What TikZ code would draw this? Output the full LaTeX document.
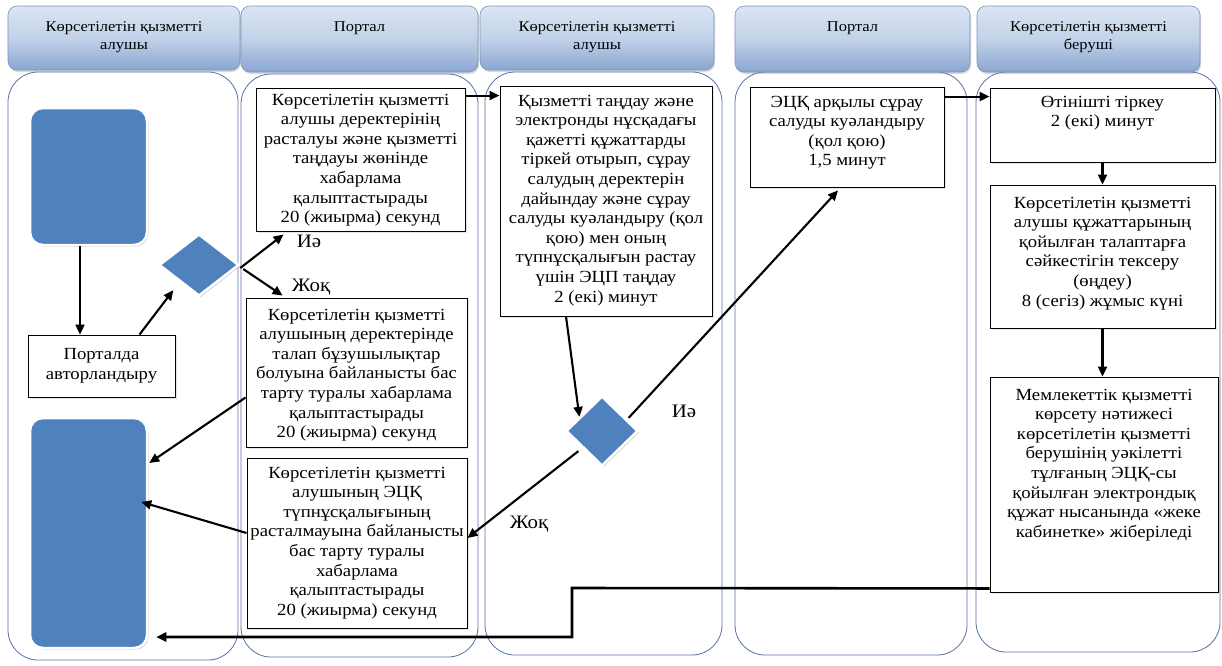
\documentclass[tikz,border=0pt]{standalone}
\usepackage{fontspec}
\setmainfont{Liberation Serif}[FakeStretch=1.1]
\usetikzlibrary{shapes.geometric,arrows.meta,calc,shadows}
\definecolor{hdrtop}{HTML}{DCE5F2}
\definecolor{hdrmid}{HTML}{C2D2E9}
\definecolor{hdrbot}{HTML}{8AA6D0}
\definecolor{hdrline}{HTML}{7893C0}
\definecolor{laneline}{HTML}{5870A0}
\definecolor{shapeblue}{HTML}{4F81BD}
\newcommand\cl[1]{\makebox[\linewidth][c]{\strut #1}\par}
\newcommand\mybx[4]{\parbox[c][#2][t]{#1}{\vspace*{#3}#4}}
\begin{document}
\begin{tikzpicture}[x=1pt,y=-1pt,
  lane/.style={draw=laneline,line width=0.8pt,rounded corners=30pt,inner sep=0pt},
  hdr/.style={draw=hdrline,line width=0.6pt,rounded corners=9pt,inner sep=0pt,
    top color=hdrtop,bottom color=hdrbot,middle color=hdrmid,
    drop shadow={opacity=0.3,shadow xshift=1pt,shadow yshift=-2pt},
    font=\fontsize{15}{18}\selectfont},
  box/.style={draw=black,line width=0.9pt,fill=white,inner sep=0pt,
    drop shadow={opacity=0.2,shadow xshift=1.5pt,shadow yshift=-1.5pt},
    font=\fontsize{17}{19.6}\selectfont},
  bshape/.style={fill=shapeblue,draw=white,line width=2.5pt,rounded corners=13pt,inner sep=0pt,
    drop shadow={opacity=0.35,shadow xshift=1.5pt,shadow yshift=-1.5pt}},
  bdia/.style={diamond,fill=shapeblue,draw=white,line width=2.5pt,inner sep=0pt,
    drop shadow={opacity=0.35,shadow xshift=1.5pt,shadow yshift=-1.5pt}},
  arr/.style={draw=black,line width=2.1pt,-{Triangle[length=10pt,width=9pt]}},
  lbl/.style={font=\fontsize{19}{22}\selectfont,inner sep=0pt}]
\useasboundingbox (0,0) rectangle (1222,665);
% lanes
\node[lane,minimum width=230pt,minimum height=588pt] (l1) at (123,366) {};
\node[lane,minimum width=237pt,minimum height=583pt] (l2) at (359.5,365.5) {};
\node[lane,minimum width=237pt,minimum height=583pt] (l3) at (603.5,363.5) {};
\node[lane,minimum width=232pt,minimum height=583pt] (l4) at (851,363.5) {};
\node[lane,minimum width=244pt,minimum height=580pt] (l5) at (1098,362) {};
% headers
\node[hdr] (h1) at (124,38) {\mybx{232pt}{64pt}{12.9pt}{\cl{Көрсетілетін қызметті}\cl{алушы}}};
\node[hdr] (h2) at (359.5,39) {\mybx{237pt}{66pt}{12.9pt}{\cl{Портал}}};
\node[hdr] (h3) at (597,38) {\mybx{234pt}{64pt}{12.9pt}{\cl{Көрсетілетін қызметті}\cl{алушы}}};
\node[hdr] (h4) at (852.5,39) {\mybx{235pt}{66pt}{12.9pt}{\cl{Портал}}};
\node[hdr] (h5) at (1088.5,39) {\mybx{223pt}{66pt}{12.9pt}{\cl{Көрсетілетін қызметті}\cl{беруші}}};
% blue shapes
\node[bshape,minimum width=117pt,minimum height=137pt] (b1) at (88.5,176.5) {};
\node[bshape,minimum width=117pt,minimum height=230pt] (b2) at (88.5,533) {};
\node[bdia,minimum width=80pt,minimum height=62pt] (d1) at (199,265) {};
\node[bdia,minimum width=72pt,minimum height=70pt] (d2) at (602,431) {};
% boxes
\node[box,minimum width=147pt,minimum height=62pt,align=center] (auth) at (101.5,366) {Порталда\\авторландыру};
\node[box] (A) at (360.5,159.5) {\mybx{209pt}{143pt}{3.3pt}{\cl{Көрсетілетін қызметті}\cl{алушы деректерінің}\cl{расталуы және қызметті}\cl{таңдауы жөнінде}\cl{хабарлама}\cl{қалыптастырады}\cl{20 (жиырма) секунд}}};
\node[box] (B) at (356.5,372.5) {\mybx{221pt}{149pt}{8.3pt}{\cl{Көрсетілетін қызметті}\cl{алушының деректерінде}\cl{талап бұзушылықтар}\cl{болуына байланысты бас}\cl{тарту туралы хабарлама}\cl{қалыптастырады}\cl{20 (жиырма) секунд}}};
\node[box] (C) at (357,543) {\mybx{220pt}{170pt}{6.3pt}{\cl{Көрсетілетін қызметті}\cl{алушының ЭЦҚ}\cl{түпнұсқалығының}\cl{расталмауына байланысты}\cl{бас тарту туралы}\cl{хабарлама}\cl{қалыптастырады}\cl{20 (жиырма) секунд}}};
\node[box] (D) at (606,201) {\mybx{212pt}{230pt}{6.3pt}{\cl{Қызметті таңдау және}\cl{электронды нұсқадағы}\cl{қажетті құжаттарды}\cl{тіркей отырып, сұрау}\cl{салудың деректерін}\cl{дайындау және сұрау}\cl{салуды куәландыру (қол}\cl{қою) мен оның}\cl{түпнұсқалығын растау}\cl{үшін ЭЦП таңдау}\cl{2 (екі) минут}}};
\node[box] (E) at (847,137) {\mybx{194pt}{100pt}{6.3pt}{\cl{ЭЦҚ арқылы сұрау}\cl{салуды куәландыру}\cl{(қол қою)}\cl{1,5 минут}}};
\node[box] (F) at (1102.5,125) {\mybx{225pt}{74pt}{5.3pt}{\cl{Өтінішті тіркеу}\cl{2 (екі) минут}}};
\node[box] (G) at (1102.5,256.5) {\mybx{225pt}{143pt}{9.3pt}{\cl{Көрсетілетін қызметті}\cl{алушы құжаттарының}\cl{қойылған талаптарға}\cl{сәйкестігін тексеру}\cl{(өңдеу)}\cl{8 (сегіз) жұмыс күні}}};
\node[box] (H) at (1104,484.5) {\mybx{228pt}{215pt}{9.3pt}{\cl{Мемлекеттік қызметті}\cl{көрсету нәтижесі}\cl{көрсетілетін қызметті}\cl{берушінің уәкілетті}\cl{тұлғаның ЭЦҚ-сы}\cl{қойылған электрондық}\cl{құжат нысанында «жеке}\cl{кабинетке» жіберіледі}}};
% labels
\node[lbl] (yes1) at (309,241) {Иә};
\node[lbl] (no1) at (311,287) {Жоқ};
\node[lbl] (yes2) at (684,411) {Иә};
\node[lbl] (no2) at (529,524) {Жоқ};
% connectors
\draw[arr] ([xshift=-8.5pt]b1.south) -- ([xshift=-8.5pt]b1.south |- auth.north);
\draw[arr] ([xshift=38pt]auth.north) -- ($(d1.south west)+(-5,9)$);
\draw[arr] ($(d1.east)+(0,3)$) -- ($(A.south west)+(28,3)$);
\draw[arr] ($(d1.east)+(3,4)$) -- ($(B.north west)+(37,-2)$);
\draw[arr] ($(A.north east)+(0,8)$) -- ($(D.north west)+(0,10)$);
\draw[arr] ($(D.south)+(-40,0)$) -- ($(d2.north west)+(-4,4)$);
\draw[arr] ($(d2.north east)+(8,5)$) -- ($(E.south)+(-9,3)$);
\draw[arr] ($(d2.south west)+(-5,2)$) -- ($(C.east)+(0,-5)$);
\draw[arr] ($(B.west)+(0,25)$) -- ($(b2.east)+(1,-70)$);
\draw[arr] ($(C.west)+(0,-10)$) -- ($(b2.east)+(-7,-31)$);
\draw[arr] ($(E.north east)+(0,10)$) -- ($(F.north west)+(0,9)$);
\draw[arr] (F.south) -- (F.south |- G.north);
\draw[arr] (G.south) -- (G.south |- H.north);
\coordinate (bend1) at (572,588);
\coordinate (bend2) at (572,637);
\draw[arr,line width=2.6pt] ($(H.south west)+(0,-4)$) -- (bend1) -- (bend2) -- ($(b2.east)+(8,104)$);
\end{tikzpicture}
\end{document}
